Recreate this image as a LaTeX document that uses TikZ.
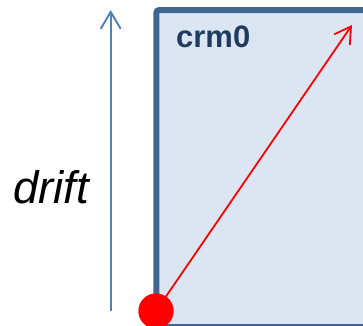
\documentclass[tikz,border=0pt]{standalone}
\usepackage{fontspec}
\setmainfont{Liberation Sans}
\usetikzlibrary{arrows.meta}
\definecolor{boxfill}{HTML}{DCE6F2}
\definecolor{boxline}{HTML}{3F6592}
\definecolor{driftblue}{HTML}{4F81BD}
\definecolor{labelblue}{HTML}{1F3B60}
\tikzset{
  boxstyle/.style={draw=boxline, fill=boxfill, line width=6pt, rounded corners=3pt},
  driftarrow/.style={draw=driftblue, line width=1.9pt, -{Straight Barb[length=17pt,width=20pt,line width=1.9pt]}},
  motionarrow/.style={draw=red, line width=1.8pt, -{Straight Barb[length=16pt,width=19pt,line width=1.8pt]}},
  dotstyle/.style={circle, fill=red, minimum size=35pt, inner sep=0pt}
}
\begin{document}
\begin{tikzpicture}[x=1pt,y=-1pt]
\useasboundingbox (0,0) rectangle (363,325);
\clip (0,0) rectangle (363,325);
\draw[boxstyle] (156.3,10) rectangle (420,327);
\node[anchor=base west, inner sep=0pt, text=labelblue, font=\fontsize{31}{36}\selectfont\bfseries] (crm) at (176,47) {crm0};
\coordinate (dbot) at (110.7,311);
\coordinate (dtop) at (110.7,10);
\draw[driftarrow] (dbot) -- (dtop);
\node[anchor=base west, inner sep=0pt, font=\fontsize{45.5}{52}\selectfont\itshape] (drift) at (13,203) {drift};
\node[dotstyle] (dot) at (156,311) {};
\coordinate (tip) at (352,25);
\draw[motionarrow] (dot.center) -- (tip);
\node[dotstyle] at (dot) {};
\end{tikzpicture}
\end{document}
